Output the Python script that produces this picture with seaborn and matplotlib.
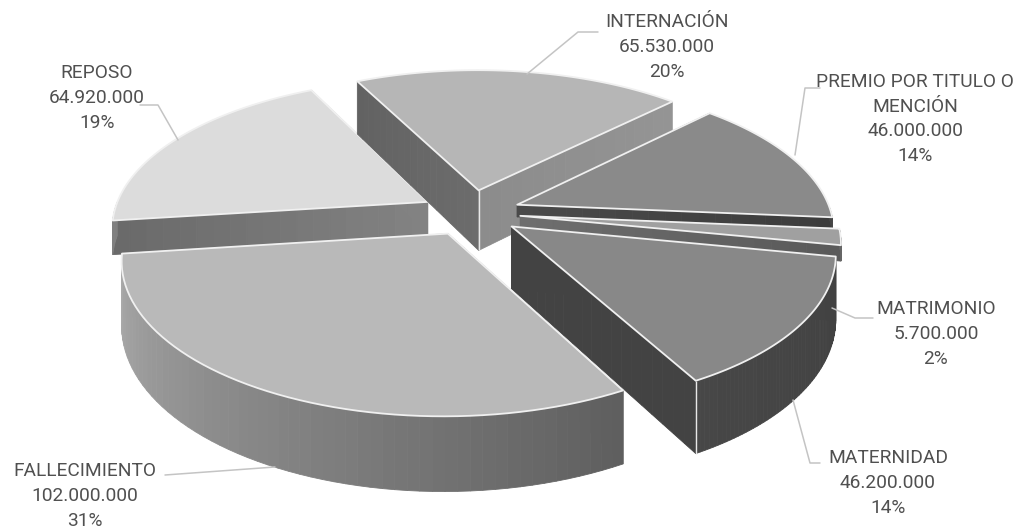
import numpy as np
import matplotlib
matplotlib.use('Agg')
import matplotlib.pyplot as plt
from matplotlib.patches import Polygon
import seaborn as sns

# data, clockwise from the first slice
categories = ['INTERNACIÓN', 'PREMIO POR TITULO O\nMENCIÓN', 'MATRIMONIO', 'MATERNIDAD', 'FALLECIMIENTO', 'REPOSO']
values = [65530000, 46000000, 5700000, 46200000, 102000000, 64920000]
percents = ['20%', '14%', '2%', '14%', '31%', '19%']

# colours per slice: top, start cut wall, end cut wall, arc wall (start, end)
top_cols = ['#b6b6b6', '#8a8a8a', '#a0a0a0', '#888888', '#b9b9b9', '#dcdcdc']
start_cols = [('#6c6c6c', '#626262'), ('#555555', '#555555'), ('#666666', '#666666'),
              ('#434343', '#434343'), ('#5f5f5f', '#5f5f5f'), ('#828282', '#6a6a6a')]
end_cols = [('#8c8c8c', '#949494'), ('#4a4a4a', '#3c3c3c'), ('#6e6e6e', '#5a5a5a'),
            ('#434343', '#434343'), ('#a0a0a0', '#a0a0a0'), ('#828282', '#828282')]
arc_cols = [('#8c8c8c', '#8c8c8c'), ('#444444', '#444444'), ('#666666', '#666666'),
            ('#414141', '#474747'), ('#5f5f5f', '#aaaaaa'), ('#808080', '#808080')]

# layout of the projected pie (pixels)
CX, CY = 471, 212.6
RX, RY = 314, 146
PERSP = 0.16
DEPTH = 61.5
EXPLODE = 0.158
START = -26.6
draw_order = [5, 0, 1, 2, 3, 4]
# walls that end behind a neighbour are cut short, as in the picture
wall_depth = [1.0, 0.2, 0.25, 1.0, 1.0, 0.55]

# label centres and leader lines (pixels)
label_xy = [(667, 47), (915, 119), (936, 334), (888, 483), (85, 496), (97, 98)]
leaders = [[(598, 32), (578, 32), (527, 74)],
           [(820, 88), (805, 88), (795, 155)],
           [(873, 318), (855, 318), (832, 308)],
           [(820, 463), (810, 463), (793, 400)],
           [(165, 475), (275, 467)],
           [(140, 105), (158, 105), (178, 140)]]

sns.set_theme(style='white')
plt.rcParams['font.family'] = ['Roboto', 'DejaVu Sans']


def project(u, v, z=0.0):
    s = 1 / (1 - PERSP * v)
    return np.column_stack([CX + RX * u * s, CY + RY * v * s + z * DEPTH * s])


def add_wall(ax, u, v, c1, c2, depth=1.0):
    # wall under a path on the top face, one quad per segment so it can shade
    top = project(u, v)
    bot = project(u, v, depth)
    pal = sns.blend_palette([c1, c2], len(u) - 1)
    for i in range(len(u) - 1):
        quad = [top[i], top[i + 1], bot[i + 1], bot[i]]
        ax.add_patch(Polygon(quad, closed=True, fc=pal[i], ec=pal[i], lw=0.6))


def fmt(n):
    return f'{n:,}'.replace(',', '.')


fig = plt.figure(figsize=(10.27, 5.30), dpi=100)
ax = fig.add_axes([0, 0, 1, 1])
ax.set_xlim(0, 1027)
ax.set_ylim(530, 0)
ax.axis('off')

for pts in leaders:
    xs, ys = zip(*pts)
    ax.plot(xs, ys, color='#c4c4c4', lw=1.1)

angles = START + 360 * np.concatenate([[0], np.cumsum(values)]) / np.sum(values)

for i in draw_order:
    a0, a1 = np.radians(angles[i]), np.radians(angles[i + 1])
    mid = (a0 + a1) / 2
    ou, ov = EXPLODE * np.sin(mid), -EXPLODE * np.cos(mid)
    t = np.linspace(a0, a1, 60)
    arc_u, arc_v = ou + np.sin(t), ov - np.cos(t)
    r = np.linspace(0, 1, 20)
    d = wall_depth[i]
    add_wall(ax, ou + r * np.sin(a0), ov - r * np.cos(a0), *start_cols[i], d)
    add_wall(ax, ou + r * np.sin(a1), ov - r * np.cos(a1), *end_cols[i], d)
    front = -np.cos(t) > 0      # back half of the rim can't be seen
    if front.sum() > 1:
        add_wall(ax, arc_u[front], arc_v[front], *arc_cols[i], d)
    # white standing edges
    if i == 0:
        corner = (ou, ov)
    elif i == 3:
        corner = (arc_u[-1], arc_v[-1])
    else:
        corner = None
    if corner is not None:
        p0 = project(np.array([corner[0]]), np.array([corner[1]]))[0]
        p1 = project(np.array([corner[0]]), np.array([corner[1]]), 1)[0]
        ax.plot([p0[0], p1[0]], [p0[1], p1[1]], color='#e8e8e8', lw=1.0, solid_capstyle='butt')
    face = project(np.r_[ou, arc_u], np.r_[ov, arc_v])
    ax.add_patch(Polygon(face, closed=True, fc=top_cols[i], ec='#f0f0f0', lw=1.3, joinstyle='round'))

for cat, val, pct, (lx, ly) in zip(categories, values, percents, label_xy):
    ax.text(lx, ly, f'{cat}\n{fmt(val)}\n{pct}', ha='center', va='center', ma='center',
            fontsize=13.8, color='#505050', linespacing=1.47)

fig.savefig('out.png', dpi=100)
